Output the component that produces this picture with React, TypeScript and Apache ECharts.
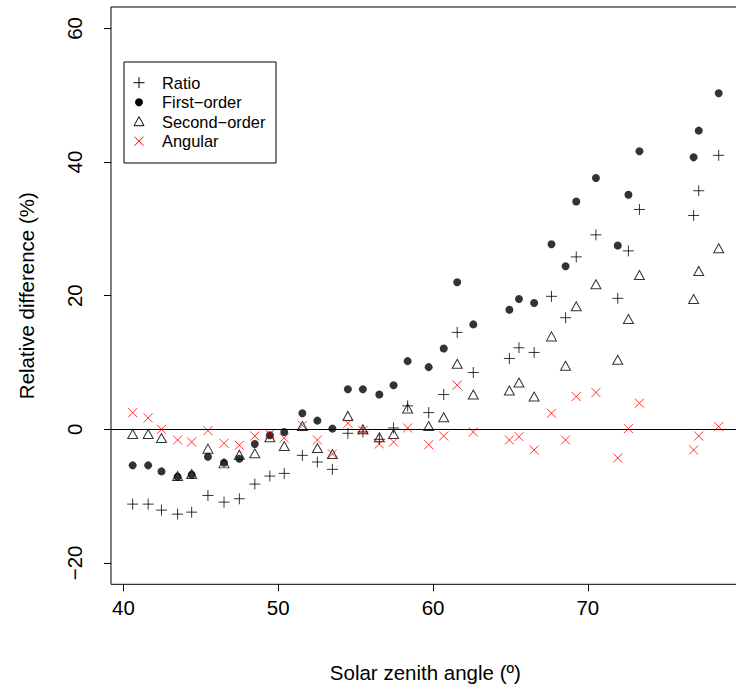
import React, { useEffect, useRef } from 'react';
import * as echarts from 'echarts';

// Solar zenith angle (deg) shared by all four series
const zenith = [
  40.6, 41.6, 42.46, 43.5, 44.41, 45.46, 46.5, 47.49, 48.49, 49.46,
  50.39, 51.56, 52.53, 53.5, 54.5, 55.47, 56.53, 57.45, 58.36, 59.72,
  60.69, 61.56, 62.6, 64.93, 65.55, 66.53, 67.65, 68.56, 69.25, 70.52,
  71.93, 72.62, 73.33, 76.83, 77.16, 78.45,
];
const ratio = [
  -11.2, -11.2, -12.1, -12.7, -12.4, -9.9, -10.9, -10.4, -8.2, -7.0,
  -6.6, -3.9, -4.9, -6.0, -0.6, -0.4, -1.5, 0.2, 3.5, 2.5,
  5.2, 14.5, 8.5, 10.6, 12.2, 11.5, 19.9, 16.7, 25.8, 29.1,
  19.6, 26.7, 32.9, 32.0, 35.7, 41.0,
];
const firstOrder = [
  -5.4, -5.4, -6.3, -7.1, -6.8, -4.1, -5.0, -4.4, -2.2, -0.9,
  -0.4, 2.4, 1.3, 0.1, 6.0, 6.0, 5.2, 6.6, 10.2, 9.3,
  12.1, 22.0, 15.7, 17.9, 19.5, 18.9, 27.7, 24.4, 34.1, 37.6,
  27.5, 35.1, 41.6, 40.7, 44.7, 50.3,
];
const secondOrder = [
  -0.7, -0.7, -1.3, -7.0, -6.7, -2.9, -5.1, -3.8, -3.6, -1.2,
  -2.5, 0.5, -2.8, -3.7, 2.0, 0.0, -1.2, -0.7, 3.1, 0.5,
  1.8, 9.8, 5.2, 5.8, 7.0, 4.9, 13.9, 9.5, 18.4, 21.7,
  10.4, 16.5, 23.1, 19.5, 23.7, 27.1,
];
const angular = [
  2.5, 1.7, 0.0, -1.6, -1.9, -0.2, -2.1, -2.4, -1.0, -0.7,
  -1.3, 0.6, -1.6, -3.7, 0.9, -0.2, -2.2, -1.9, 0.2, -2.3,
  -1.0, 6.6, -0.4, -1.6, -1.1, -3.1, 2.4, -1.6, 4.9, 5.5,
  -4.3, 0.1, 3.9, -3.1, -1.0, 0.4,
];
const seriesNames = ['Ratio', 'First\u2212order', 'Second\u2212order', 'Angular'];
const xTicks = [40, 50, 60, 70];
const yTicks = [-20, 0, 20, 40, 60];
const xTitle = 'Solar zenith angle (\u00ba)';
const yTitle = 'Relative difference (%)';

const FONT = '"Liberation Sans", Arial, Helvetica, sans-serif';

export default function App() {
  const ref = useRef<HTMLDivElement>(null);
  useEffect(() => {
    document.body.style.margin = '0';
    const chart = echarts.init(ref.current!, null, { renderer: 'svg' });
    const pair = (ys: number[]) => zenith.map((x, i) => [x, ys[i]]);

    const legLeft = 124, legTop = 62;
    const rowY = [82.7, 102.2, 121.7, 141.2];
    const icx = 139;
    const legendIcons: any[] = [
      { type: 'group', children: [
        { type: 'line', shape: { x1: icx - 5.5, y1: rowY[0], x2: icx + 5.5, y2: rowY[0] }, style: { stroke: '#000', lineWidth: 1 } },
        { type: 'line', shape: { x1: icx, y1: rowY[0] - 5.5, x2: icx, y2: rowY[0] + 5.5 }, style: { stroke: '#000', lineWidth: 1 } },
      ] },
      { type: 'circle', shape: { cx: icx, cy: rowY[1], r: 4 }, style: { fill: '#000' } },
      { type: 'polygon', shape: { points: [[icx, rowY[2] - 5], [icx + 5, rowY[2] + 4], [icx - 5, rowY[2] + 4]] }, style: { fill: 'none', stroke: '#000', lineWidth: 1 } },
      { type: 'group', children: [
        { type: 'line', shape: { x1: icx - 4.5, y1: rowY[3] - 4.5, x2: icx + 4.5, y2: rowY[3] + 4.5 }, style: { stroke: '#ff0000', lineWidth: 1 } },
        { type: 'line', shape: { x1: icx - 4.5, y1: rowY[3] + 4.5, x2: icx + 4.5, y2: rowY[3] - 4.5 }, style: { stroke: '#ff0000', lineWidth: 1 } },
      ] },
    ];
    const legendTexts = seriesNames.map((n, i) => ({
      type: 'text', x: 162, y: rowY[i],
      style: { text: n, fill: '#000', fontSize: 16.4, fontFamily: FONT, verticalAlign: 'middle', align: 'left' },
    }));

    chart.setOption({
      animation: false,
      backgroundColor: '#fff',
      grid: {
        left: 111, top: 7, width: 628.6, height: 577.3,
        show: true, borderColor: '#000', borderWidth: 1,
        containLabel: false, outerBoundsMode: 'none',
      },
      xAxis: {
        type: 'value', min: 39.2, max: 79.8,
        axisLine: { show: false, onZero: false },
        splitLine: { show: false },
        axisTick: { show: true, customValues: xTicks, length: 7, lineStyle: { color: '#000', width: 1 } },
        axisLabel: { customValues: xTicks, fontSize: 20.5, color: '#000', margin: 12.5, fontFamily: FONT },
        name: xTitle, nameLocation: 'middle', nameGap: 77.5,
        nameTextStyle: { fontSize: 20.5, color: '#000', fontFamily: FONT },
      },
      yAxis: {
        type: 'value', min: -23.2, max: 63.2,
        axisLine: { show: false, onZero: false },
        splitLine: { show: false },
        axisTick: { show: true, customValues: yTicks, length: 7, lineStyle: { color: '#000', width: 1 } },
        axisLabel: {
          customValues: yTicks, rotate: 90, fontSize: 20.5, color: '#000', margin: 26, fontFamily: FONT,
          formatter: (v: number) => (v < 0 ? '\u2212' + Math.abs(v) : String(v)),
        },
        name: yTitle, nameLocation: 'middle', nameGap: 74, nameRotate: 90,
        nameTextStyle: { fontSize: 20.5, color: '#000', fontFamily: FONT },
      },
      series: [
        {
          type: 'scatter', name: seriesNames[0], data: pair(ratio),
          symbol: 'path://M0,5L10,5M5,0L5,10', symbolSize: 11,
          itemStyle: { color: 'transparent', borderColor: '#000', borderWidth: 1 },
          markLine: {
            silent: true, symbol: ['none', 'none'], label: { show: false },
            lineStyle: { color: '#000', width: 1, type: 'solid' },
            data: [{ yAxis: 0 }],
          },
        },
        {
          type: 'scatter', name: seriesNames[1], data: pair(firstOrder),
          symbol: 'circle', symbolSize: 8,
          itemStyle: { color: '#000' },
        },
        {
          type: 'scatter', name: seriesNames[2], data: pair(secondOrder),
          symbol: 'triangle', symbolSize: [10, 9],
          itemStyle: { color: 'transparent', borderColor: '#000', borderWidth: 1 },
        },
        {
          type: 'scatter', name: seriesNames[3], data: pair(angular),
          symbol: 'path://M0,0L10,10M0,10L10,0', symbolSize: 9,
          itemStyle: { color: 'transparent', borderColor: '#ff0000', borderWidth: 1 },
        },
      ],
      graphic: [
        { type: 'rect', shape: { x: legLeft, y: legTop, width: 152, height: 101 }, style: { fill: 'none', stroke: '#000', lineWidth: 1 } },
        ...legendIcons,
        ...legendTexts,
      ],
    });
    return () => chart.dispose();
  }, []);
  return <div ref={ref} style={{ width: 736, height: 693 }} />;
}
